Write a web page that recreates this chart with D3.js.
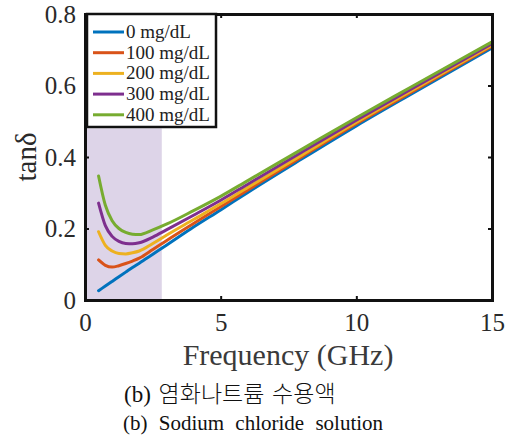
<!DOCTYPE html>
<html><head><meta charset="utf-8">
<script src="https://cdn.jsdelivr.net/npm/d3@7"></script>
<style>body{margin:0;background:#fff}svg{display:block}</style>
</head><body>
<svg id="c" width="512" height="440"></svg>
<script>
const freqs = [0.5, 0.75, 1, 1.25, 1.5, 1.75, 2, 2.5, 3, 4, 5, 6, 8, 10, 12, 15];
const seriesNames = ["0 mg/dL", "100 mg/dL", "200 mg/dL", "300 mg/dL", "400 mg/dL"];
const s0   = [0.026, 0.039, 0.052, 0.065, 0.078, 0.091, 0.103, 0.128, 0.153, 0.204, 0.252, 0.301, 0.395, 0.487, 0.575, 0.705];
const s100 = [0.112, 0.097, 0.092, 0.096, 0.102, 0.109, 0.117, 0.141, 0.166, 0.214, 0.261, 0.308, 0.401, 0.493, 0.580, 0.710];
const s200 = [0.191, 0.153, 0.137, 0.130, 0.129, 0.132, 0.137, 0.158, 0.181, 0.225, 0.269, 0.315, 0.406, 0.497, 0.584, 0.713];
const s300 = [0.271, 0.208, 0.178, 0.164, 0.158, 0.157, 0.160, 0.176, 0.196, 0.237, 0.279, 0.324, 0.414, 0.503, 0.589, 0.717];
const s400 = [0.347, 0.265, 0.222, 0.200, 0.189, 0.184, 0.183, 0.196, 0.212, 0.250, 0.290, 0.334, 0.422, 0.510, 0.595, 0.722];
const seriesValues = [s0, s100, s200, s300, s400];
const colors = ["#0072BD", "#D95319", "#EDB120", "#7E2F8E", "#77AC30"];
const xTicks = [0, 5, 10, 15];
const yTicks = [0, 0.2, 0.4, 0.6, 0.8];
const shadeRange = [0, 2.83];
const shadeTop = 0.48;
const xTitle = "Frequency (GHz)";
const yTitle = "tanδ";
const captionKo = "(b) 염화나트륨 수용액";
const captionEn = "(b) Sodium chloride solution";

const serif = '"Liberation Serif", "Times New Roman", serif';
const svg = d3.select("#c");
const x = d3.scaleLinear().domain([0, 15]).range([85, 492]);
const y = d3.scaleLinear().domain([0, 0.8]).range([300, 14]);

// shaded region
svg.append("rect")
  .attr("x", x(shadeRange[0])).attr("y", y(shadeTop))
  .attr("width", x(shadeRange[1]) - x(shadeRange[0]))
  .attr("height", y(0) - y(shadeTop))
  .attr("fill", "#ddd4e8");

// lines
const line = d3.line().x((d, i) => x(freqs[i])).y(d => y(d)).curve(d3.curveMonotoneX);
seriesValues.forEach((vals, i) => {
  svg.append("path").datum(vals)
    .attr("d", line).attr("fill", "none")
    .attr("stroke", colors[i]).attr("stroke-width", 3)
    .attr("stroke-linecap", "round");
});

// axes
const gBottom = svg.append("g").attr("transform", `translate(0,${y(0)})`)
  .call(d3.axisBottom(x).tickValues(xTicks).tickSize(-4).tickPadding(13).tickFormat(d3.format("d")));
const gLeft = svg.append("g").attr("transform", `translate(${x(0)},0)`)
  .call(d3.axisLeft(y).tickValues(yTicks).tickSize(-4).tickPadding(9).tickFormat(d => d === 0 ? "0" : d3.format(".1f")(d)));
const gTop = svg.append("g").attr("transform", `translate(0,${y(0.8)})`)
  .call(d3.axisTop(x).tickValues(xTicks).tickSize(-4).tickFormat(""));
const gRight = svg.append("g").attr("transform", `translate(${x(15)},0)`)
  .call(d3.axisRight(y).tickValues(yTicks).tickSize(-4).tickFormat(""));
[gBottom, gLeft, gTop, gRight].forEach(g => {
  g.attr("font-family", null);
  g.select(".domain").attr("stroke", "#111").attr("stroke-width", 3);
  g.selectAll(".tick line").attr("stroke", "#111").attr("stroke-width", 2);
  g.selectAll("text").style("font-family", serif).attr("font-size", 25).attr("fill", "#2a2a2a");
});

// axis titles
svg.append("text").attr("x", 288).attr("y", 365).attr("text-anchor", "middle")
  .style("font-family", serif).attr("font-size", 30).attr("fill", "#3a3a3a").text(xTitle);
svg.append("text").attr("transform", "translate(36,157) rotate(-90)").attr("text-anchor", "middle")
  .style("font-family", serif).attr("font-size", 29).attr("fill", "#2a2a2a").text(yTitle);

// legend
const lg = svg.append("g");
lg.append("rect").attr("x", 87).attr("y", 14).attr("width", 129).attr("height", 113)
  .attr("fill", "#fff").attr("stroke", "#111").attr("stroke-width", 2.5);
seriesNames.forEach((name, i) => {
  const yy = 32 + i * 20.7;
  lg.append("line").attr("x1", 93).attr("x2", 124).attr("y1", yy).attr("y2", yy)
    .attr("stroke", colors[i]).attr("stroke-width", 3);
  lg.append("text").attr("x", 126).attr("y", yy + 6).style("font-family", serif)
    .attr("font-size", 19).attr("fill", "#222").text(name);
});

// captions
svg.append("text").attr("x", 124).attr("y", 402)
  .style("font-family", '"Liberation Serif", "Noto Sans CJK KR", serif').style("font-weight", 300)
  .attr("font-size", 23).attr("fill", "#111").attr("word-spacing", 2).text(captionKo);
svg.append("text").attr("x", 123).attr("y", 430).attr("word-spacing", 6)
  .style("font-family", serif).attr("font-size", 21).attr("fill", "#111").text(captionEn);
</script>
</body></html>
